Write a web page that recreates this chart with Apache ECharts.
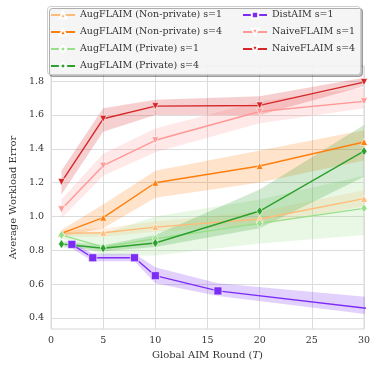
<!DOCTYPE html>
<html>
<head>
<meta charset="utf-8">
<script src="https://cdn.jsdelivr.net/npm/echarts@6/dist/echarts.min.js"></script>
<style>
  html, body { margin: 0; padding: 0; background: #fff; }
  #chart { width: 374px; height: 368px; }
</style>
</head>
<body>
<div id="chart"></div>
<script>
// rounds
const roundsT = [1, 5, 10, 20, 30];
const distRounds = [2, 4, 8, 10, 16, 32];
const yTicks = [0.4, 0.6, 0.8, 1.0, 1.2, 1.4, 1.6, 1.8];

// AugFLAIM (Non-private)
const augNp1 = [0.90, 0.904, 0.937, 0.985, 1.105];
const augNp1Lo = [0.88, 0.88, 0.91, 0.95, 1.06];
const augNp1Hi = [0.92, 0.93, 0.97, 1.03, 1.155];
const augNp4 = [0.90, 0.993, 1.199, 1.298, 1.44];
const augNp4Lo = [0.88, 0.93, 1.11, 1.20, 1.33];
const augNp4Hi = [0.92, 1.07, 1.27, 1.39, 1.51];

// AugFLAIM (Private)
const augP1 = [0.89, 0.82, 0.868, 0.959, 1.048];
const augP1Lo = [0.87, 0.77, 0.77, 0.84, 0.89];
const augP1Hi = [0.91, 0.90, 1.00, 1.10, 1.24];
const augP4 = [0.837, 0.812, 0.843, 1.032, 1.386];
const augP4Lo = [0.82, 0.795, 0.82, 0.93, 1.235];
const augP4Hi = [0.855, 0.83, 0.89, 1.16, 1.54];

// DistAIM
const dist1 = [0.835, 0.756, 0.756, 0.65, 0.56, 0.445];
const dist1Lo = [0.81, 0.735, 0.735, 0.605, 0.53, 0.41];
const dist1Hi = [0.855, 0.78, 0.78, 0.70, 0.605, 0.515];

// NaiveFLAIM
const naive1 = [1.042, 1.30, 1.45, 1.62, 1.68];
const naive1Lo = [0.99, 1.24, 1.38, 1.55, 1.64];
const naive1Hi = [1.10, 1.37, 1.52, 1.68, 1.76];
const naive4 = [1.203, 1.577, 1.652, 1.656, 1.794];
const naive4Lo = [1.13, 1.50, 1.60, 1.60, 1.77];
const naive4Hi = [1.27, 1.64, 1.69, 1.71, 1.82];

const FONT = 'DejaVu Serif';

const lines = [
  { name: 'AugFLAIM (Non-private) s=1', color: '#ffbb78', x: roundsT, y: augNp1, lo: augNp1Lo, hi: augNp1Hi, symbol: 'triangle', rot: 0 },
  { name: 'AugFLAIM (Non-private) s=4', color: '#ff7f0e', x: roundsT, y: augNp4, lo: augNp4Lo, hi: augNp4Hi, symbol: 'triangle', rot: 0 },
  { name: 'AugFLAIM (Private) s=1', color: '#98df8a', x: roundsT, y: augP1, lo: augP1Lo, hi: augP1Hi, symbol: 'diamond', rot: 0 },
  { name: 'AugFLAIM (Private) s=4', color: '#2ca02c', x: roundsT, y: augP4, lo: augP4Lo, hi: augP4Hi, symbol: 'diamond', rot: 0 },
  { name: 'DistAIM s=1', color: '#7b2cf5', x: distRounds, y: dist1, lo: dist1Lo, hi: dist1Hi, symbol: 'rect', rot: 0 },
  { name: 'NaiveFLAIM s=1', color: '#ff9896', x: roundsT, y: naive1, lo: naive1Lo, hi: naive1Hi, symbol: 'triangle', rot: 180 },
  { name: 'NaiveFLAIM s=4', color: '#d62728', x: roundsT, y: naive4, lo: naive4Lo, hi: naive4Hi, symbol: 'triangle', rot: 180 }
];

const pairs = (xs, ys) => xs.map((x, i) => [x, ys[i]]);

const series = [];
lines.forEach((s) => {
  // confidence band as one polygon: upper edge forward, lower edge back
  series.push({
    type: 'custom', silent: true, z: 1, clip: true,
    data: [0],
    renderItem: (params, api) => {
      const up = s.x.map((x, i) => api.coord([x, s.hi[i]]));
      const down = s.x.map((x, i) => api.coord([x, s.lo[i]])).reverse();
      return {
        type: 'polygon',
        shape: { points: up.concat(down) },
        style: { fill: s.color, opacity: 0.22 }
      };
    }
  });
});
lines.forEach((s) => {
  series.push({
    name: s.name, type: 'line', data: pairs(s.x, s.y),
    color: s.color, symbol: s.symbol, symbolRotate: s.rot,
    symbolSize: s.symbol === 'rect' ? 8 : (s.symbol === 'diamond' ? [6, 9] : 7),
    showAllSymbol: true,
    lineStyle: { width: 1.4, color: s.color },
    itemStyle: { color: s.color, borderColor: '#fff', borderWidth: 0.6 },
    z: 3
  });
});

const chart = echarts.init(document.getElementById('chart'), null, { renderer: 'canvas' });

const legendBase = {
  orient: 'vertical', itemWidth: 24, itemHeight: 8, itemGap: 7,
  textStyle: { fontFamily: FONT, fontSize: 9.5, color: '#333' },
  padding: 0, z: 5
};

chart.setOption({
  animation: false,
  backgroundColor: '#fff',
  grid: { left: 41, right: 10, top: 66, bottom: 39, show: true, borderColor: '#d6d6d6', borderWidth: 1 },
  legend: [
    Object.assign({}, legendBase, { left: 50, top: 10, data: lines.slice(0, 4).map(s => s.name) }),
    Object.assign({}, legendBase, { left: 242, top: 10, data: lines.slice(4).map(s => s.name) })
  ],
  graphic: [{
    type: 'rect', z: 4, left: 47, top: 6,
    shape: { width: 313, height: 68, r: 3 },
    style: { fill: 'rgba(255,255,255,0.85)', stroke: '#cccccc', lineWidth: 1,
      shadowColor: 'rgba(0,0,0,0.3)', shadowOffsetX: 2, shadowOffsetY: 2, shadowBlur: 0 }
  }],
  xAxis: {
    type: 'value', min: 0, max: 30, interval: 5,
    name: 'Global AIM Round ({i|T})', nameLocation: 'middle', nameGap: 18,
    nameTextStyle: { fontFamily: FONT, fontSize: 10, color: '#333',
      rich: { i: { fontFamily: FONT, fontStyle: 'italic', fontSize: 10, color: '#333' } } },
    axisLine: { show: false }, axisTick: { show: false },
    axisLabel: { fontFamily: FONT, fontSize: 9.5, color: '#333', margin: 7 },
    splitLine: { show: true, lineStyle: { color: '#dcdcdc', width: 1 } }
  },
  yAxis: {
    type: 'value', min: 0.335, max: 1.889,
    name: 'Average Workload Error', nameLocation: 'middle', nameGap: 26,
    nameTextStyle: { fontFamily: FONT, fontSize: 10, color: '#333' },
    axisLine: { show: false },
    axisTick: { show: false, customValues: yTicks },
    axisLabel: { fontFamily: FONT, fontSize: 9.5, color: '#333', margin: 7, customValues: yTicks,
      formatter: v => v.toFixed(1) },
    splitLine: { show: true, lineStyle: { color: '#dcdcdc', width: 1 } }
  },
  series: series
});
</script>
</body>
</html>
